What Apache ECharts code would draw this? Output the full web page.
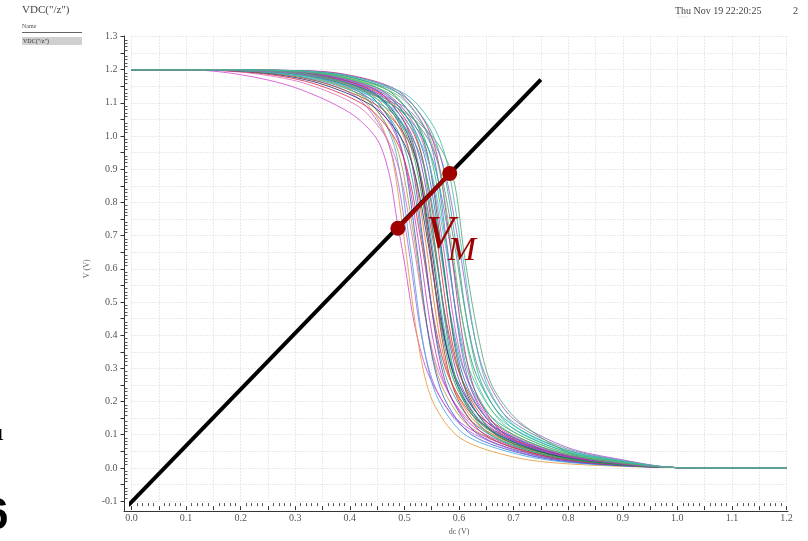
<!DOCTYPE html>
<html>
<head>
<meta charset="utf-8">
<script src="https://cdn.jsdelivr.net/npm/echarts@6/dist/echarts.min.js"></script>
<style>
  html, body { margin: 0; padding: 0; background: #fff; }
  #vtcChart { width: 808px; height: 541px; }
</style>
</head>
<body>
<div id="vtcChart"></div>
<script>
// monte carlo VTC sweeps as [dc (V), V (V)]
const head = [[0, 1.2], [0.1, 1.2]];
const tail = [[1.0, 0.001], [1.2, 0]];

const vtc01 = [[0.2,1.185],[0.3,1.146],[0.4,1.07],[0.45,0.99],[0.473,0.88],[0.486,0.75],[0.5,0.62],[0.52,0.42],[0.547,0.27],[0.6,0.14],[0.7,0.06],[0.8,0.025]];
const vtc02 = [[0.202,1.198],[0.302,1.188],[0.402,1.14],[0.452,1.05],[0.477,0.94],[0.502,0.66],[0.527,0.36],[0.552,0.2],[0.602,0.09],[0.702,0.032],[0.802,0.012]];
const vtc03 = [[0.206,1.197],[0.306,1.18],[0.406,1.125],[0.456,1.03],[0.481,0.92],[0.506,0.68],[0.531,0.40],[0.556,0.245],[0.606,0.125],[0.706,0.05],[0.806,0.02]];
const vtc04 = [[0.211,1.198],[0.311,1.188],[0.411,1.14],[0.461,1.05],[0.486,0.94],[0.511,0.66],[0.536,0.36],[0.561,0.21],[0.611,0.10],[0.711,0.04],[0.811,0.015]];
const vtc05 = [[0.215,1.19],[0.315,1.16],[0.415,1.09],[0.465,1.0],[0.49,0.9],[0.515,0.69],[0.54,0.44],[0.565,0.28],[0.615,0.15],[0.715,0.062],[0.815,0.025]];
const vtc06 = [[0.219,1.197],[0.319,1.18],[0.419,1.125],[0.469,1.03],[0.494,0.92],[0.519,0.68],[0.544,0.40],[0.569,0.245],[0.619,0.125],[0.719,0.05],[0.819,0.02]];
const vtc07 = [[0.223,1.198],[0.323,1.188],[0.423,1.14],[0.473,1.05],[0.498,0.94],[0.523,0.66],[0.548,0.36],[0.573,0.21],[0.623,0.10],[0.723,0.04],[0.823,0.015]];
const vtc08 = [[0.226,1.197],[0.326,1.18],[0.426,1.125],[0.476,1.03],[0.501,0.92],[0.526,0.68],[0.551,0.40],[0.576,0.245],[0.626,0.125],[0.726,0.05],[0.826,0.02]];
const vtc09 = [[0.23,1.19],[0.33,1.16],[0.43,1.09],[0.48,1.0],[0.505,0.9],[0.53,0.69],[0.555,0.44],[0.58,0.28],[0.63,0.15],[0.73,0.062],[0.83,0.025]];
const vtc10 = [[0.233,1.197],[0.333,1.18],[0.433,1.125],[0.483,1.03],[0.508,0.92],[0.533,0.68],[0.558,0.40],[0.583,0.245],[0.633,0.125],[0.733,0.05],[0.833,0.02]];
const vtc11 = [[0.236,1.198],[0.336,1.188],[0.436,1.14],[0.486,1.05],[0.511,0.94],[0.536,0.66],[0.561,0.36],[0.586,0.21],[0.636,0.10],[0.736,0.04],[0.836,0.015]];
const vtc12 = [[0.239,1.197],[0.339,1.18],[0.439,1.125],[0.489,1.03],[0.514,0.92],[0.539,0.68],[0.564,0.40],[0.589,0.245],[0.639,0.125],[0.739,0.05],[0.839,0.02]];
const vtc13 = [[0.242,1.19],[0.342,1.16],[0.442,1.09],[0.492,1.0],[0.517,0.9],[0.542,0.69],[0.567,0.44],[0.592,0.28],[0.642,0.15],[0.742,0.062],[0.842,0.025]];
const vtc14 = [[0.245,1.197],[0.345,1.18],[0.445,1.125],[0.495,1.03],[0.52,0.92],[0.545,0.68],[0.57,0.40],[0.595,0.245],[0.645,0.125],[0.745,0.05],[0.845,0.02]];
const vtc15 = [[0.247,1.198],[0.347,1.188],[0.447,1.14],[0.497,1.05],[0.522,0.94],[0.547,0.66],[0.572,0.36],[0.597,0.21],[0.647,0.10],[0.747,0.04],[0.847,0.015]];
const vtc16 = [[0.25,1.197],[0.35,1.18],[0.45,1.125],[0.5,1.03],[0.525,0.92],[0.55,0.68],[0.575,0.40],[0.6,0.245],[0.65,0.125],[0.75,0.05],[0.85,0.02]];
const vtc17 = [[0.252,1.19],[0.352,1.16],[0.452,1.09],[0.502,1.0],[0.527,0.9],[0.552,0.69],[0.577,0.44],[0.602,0.28],[0.652,0.15],[0.752,0.062],[0.852,0.025]];
const vtc18 = [[0.255,1.197],[0.355,1.18],[0.455,1.125],[0.505,1.03],[0.53,0.92],[0.555,0.68],[0.58,0.40],[0.605,0.245],[0.655,0.125],[0.755,0.05],[0.855,0.02]];
const vtc19 = [[0.257,1.198],[0.357,1.188],[0.457,1.14],[0.507,1.05],[0.532,0.94],[0.557,0.66],[0.582,0.36],[0.607,0.21],[0.657,0.10],[0.757,0.04],[0.857,0.015]];
const vtc20 = [[0.26,1.197],[0.36,1.18],[0.46,1.125],[0.51,1.03],[0.535,0.92],[0.56,0.68],[0.585,0.40],[0.61,0.245],[0.66,0.125],[0.76,0.05],[0.86,0.02]];
const vtc21 = [[0.262,1.19],[0.362,1.16],[0.462,1.09],[0.512,1.0],[0.537,0.9],[0.562,0.69],[0.587,0.44],[0.612,0.28],[0.662,0.15],[0.762,0.062],[0.862,0.025]];
const vtc22 = [[0.265,1.197],[0.365,1.18],[0.465,1.125],[0.515,1.03],[0.54,0.92],[0.565,0.68],[0.59,0.40],[0.615,0.245],[0.665,0.125],[0.765,0.05],[0.865,0.02]];
const vtc23 = [[0.268,1.198],[0.368,1.188],[0.468,1.14],[0.518,1.05],[0.543,0.94],[0.568,0.66],[0.593,0.36],[0.618,0.21],[0.668,0.10],[0.768,0.04],[0.868,0.015]];
const vtc24 = [[0.27,1.197],[0.37,1.18],[0.47,1.125],[0.52,1.03],[0.545,0.92],[0.57,0.68],[0.595,0.40],[0.62,0.245],[0.67,0.125],[0.77,0.05],[0.87,0.02]];
const vtc25 = [[0.273,1.19],[0.373,1.16],[0.473,1.09],[0.523,1.0],[0.548,0.9],[0.573,0.69],[0.598,0.44],[0.623,0.28],[0.673,0.15],[0.773,0.062],[0.873,0.025]];
const vtc26 = [[0.276,1.197],[0.376,1.18],[0.476,1.125],[0.526,1.03],[0.551,0.92],[0.576,0.68],[0.601,0.40],[0.626,0.245],[0.676,0.125],[0.776,0.05],[0.876,0.02]];
const vtc27 = [[0.279,1.198],[0.379,1.188],[0.479,1.14],[0.529,1.05],[0.554,0.94],[0.579,0.66],[0.604,0.36],[0.629,0.21],[0.679,0.10],[0.779,0.04],[0.879,0.015]];
const vtc28 = [[0.282,1.19],[0.382,1.16],[0.482,1.09],[0.532,1.0],[0.557,0.9],[0.582,0.69],[0.607,0.44],[0.632,0.28],[0.682,0.15],[0.782,0.062],[0.882,0.025]];
const vtc29 = [[0.286,1.197],[0.386,1.18],[0.486,1.125],[0.536,1.03],[0.561,0.92],[0.586,0.68],[0.611,0.40],[0.636,0.245],[0.686,0.125],[0.786,0.05],[0.886,0.02]];
const vtc30 = [[0.29,1.19],[0.39,1.16],[0.49,1.09],[0.54,1.0],[0.565,0.9],[0.59,0.69],[0.615,0.44],[0.64,0.28],[0.69,0.15],[0.79,0.062],[0.89,0.025]];
const vtc31 = [[0.294,1.197],[0.394,1.18],[0.494,1.125],[0.544,1.03],[0.569,0.92],[0.594,0.68],[0.619,0.40],[0.644,0.245],[0.694,0.125],[0.794,0.05],[0.894,0.02]];
const vtc32 = [[0.298,1.19],[0.398,1.16],[0.498,1.09],[0.548,1.0],[0.573,0.9],[0.598,0.69],[0.623,0.44],[0.648,0.28],[0.698,0.15],[0.798,0.062],[0.898,0.025]];
const vtc33 = [[0.303,1.197],[0.403,1.18],[0.503,1.125],[0.553,1.03],[0.578,0.92],[0.603,0.68],[0.628,0.40],[0.653,0.245],[0.703,0.125],[0.803,0.05],[0.903,0.02]];
const vtc34 = [[0.31,1.19],[0.41,1.15],[0.51,1.06],[0.56,0.98],[0.59,0.87],[0.61,0.64],[0.635,0.40],[0.66,0.25],[0.71,0.14],[0.81,0.04],[0.91,0.012]];
const vtc35 = [[0.248,1.197],[0.348,1.18],[0.448,1.125],[0.498,1.03],[0.523,0.92],[0.548,0.68],[0.573,0.40],[0.598,0.245],[0.648,0.125],[0.748,0.05],[0.848,0.02]];
const vtc36 = [[0.285,1.198],[0.385,1.188],[0.485,1.14],[0.535,1.05],[0.56,0.94],[0.585,0.66],[0.61,0.36],[0.635,0.21],[0.685,0.10],[0.785,0.04],[0.885,0.015]];

const sweeps = [vtc01, vtc02, vtc03, vtc04, vtc05, vtc06, vtc07, vtc08, vtc09, vtc10, vtc11, vtc12,
  vtc13, vtc14, vtc15, vtc16, vtc17, vtc18, vtc35, vtc19, vtc20, vtc21, vtc22, vtc23, vtc24,
  vtc25, vtc26, vtc27, vtc28, vtc36, vtc29, vtc30, vtc31, vtc32, vtc33, vtc34];
const sweepColors = ["#d44fd4", "#e89a3c", "#b46ae0", "#4aa6e0", "#e070b4", "#aaa040", "#3a5fd0", "#c440c4",
  "#d8304a", "#2aa89a", "#7b3fc0", "#e07b28", "#28307a", "#2ca05a", "#c02858", "#38b8d0", "#a05a30",
  "#9040d0", "#303060", "#22b060", "#e03040", "#28b0a0", "#4070e0", "#1a7a4a", "#d050c0", "#40c8c8",
  "#30b878", "#8060e0", "#20a0a0", "#c03090", "#70c070", "#708898", "#30b090", "#a060d0", "#40c0b0", "#5aa878"];

// y = x guide (drawn at 45 deg on screen) and the V_M segment
const unityLine = [[-0.006, -0.113], [0.75, 1.17]];
const vmPoints = [[0.488, 0.722], [0.583, 0.887]];

const xTicks = { min: 0, max: 1.2, step: 0.05 };
const yTicks = { min: -0.1, max: 1.3, step: 0.05 };

var myChart = echarts.init(document.getElementById("vtcChart"));
const serif = '"Liberation Serif", "DejaVu Serif", serif';

function tenthLabel(v) {
  //only every 0.1 gets a label
  const k = Math.round(v * 100);
  return k % 10 === 0 ? (k / 100).toFixed(1) : "";
}

const gridLines = { show: true, lineStyle: { color: "#d4d4d4", type: [1, 2], width: 1 } };

var series = sweeps.map(function (pts, i) {
  return {
    type: "line",
    xAxisIndex: 1,
    yAxisIndex: 1,
    data: head.concat(pts, tail),
    symbol: "none",
    smooth: 0.3,
    lineStyle: { width: 1, color: sweepColors[i], opacity: 0.85 },
    silent: true,
  };
});

series.push({
  type: "line",
  xAxisIndex: 1,
  yAxisIndex: 1,
  data: unityLine,
  symbol: "none",
  clip: false,
  lineStyle: { width: 4, color: "#000" },
  z: 5,
});
series.push({
  type: "line",
  xAxisIndex: 1,
  yAxisIndex: 1,
  data: vmPoints,
  symbol: "circle",
  symbolSize: 15,
  clip: false,
  itemStyle: { color: "#a00000" },
  lineStyle: { width: 4, color: "#a00000" },
  z: 6,
});

var option = {
  animation: false,
  grid: [
    // frame (axis lines sit a few px outside the plotted range)
    { left: 124, right: 20, top: 36, bottom: 30 },
    // data area
    { left: 131.5, right: 21.5, top: 36.5, bottom: 35.5 },
  ],
  xAxis: [
    {
      gridIndex: 0, type: "value", min: 0, max: 1, position: "bottom",
      axisLine: { show: true, onZero: false, lineStyle: { color: "#333" } },
      axisTick: { show: false }, axisLabel: { show: false }, splitLine: { show: false },
    },
    {
      gridIndex: 1, type: "value", min: xTicks.min, max: xTicks.max, interval: xTicks.step,
      position: "bottom", offset: 5,
      axisLine: { show: false, onZero: false },
      axisTick: { show: true, length: 4, lineStyle: { color: "#333" } },
      axisLabel: { formatter: tenthLabel, fontFamily: serif, fontSize: 10, color: "#555", margin: 7 },
      splitLine: gridLines,
      name: "dc (V)", nameLocation: "middle", nameGap: 19,
      nameTextStyle: { fontFamily: serif, fontSize: 8, color: "#555" },
    },
    {
      gridIndex: 1, type: "value", min: xTicks.min, max: xTicks.max, interval: xTicks.step,
      position: "bottom", offset: 5,
      axisLine: { show: false, onZero: false },
      axisTick: { show: false, inside: true },
      minorTick: { show: true, splitNumber: 5, length: 3, lineStyle: { color: "#555" } },
      axisLabel: { show: false }, splitLine: { show: false },
    },
  ],
  yAxis: [
    {
      gridIndex: 0, type: "value", min: 0, max: 1, position: "left",
      axisLine: { show: true, onZero: false, lineStyle: { color: "#333" } },
      axisTick: { show: false }, axisLabel: { show: false }, splitLine: { show: false },
    },
    {
      gridIndex: 1, type: "value", min: yTicks.min, max: yTicks.max, interval: yTicks.step,
      position: "left", offset: 7,
      axisLine: { show: false, onZero: false },
      axisTick: { show: true, length: 4, lineStyle: { color: "#333" } },
      axisLabel: { formatter: tenthLabel, fontFamily: serif, fontSize: 10, color: "#555", margin: 7 },
      splitLine: gridLines,
      name: "V (V)", nameLocation: "middle", nameGap: 31,
      nameTextStyle: { fontFamily: serif, fontSize: 8, color: "#555" },
    },
    {
      gridIndex: 1, type: "value", min: yTicks.min, max: yTicks.max, interval: yTicks.step,
      position: "left", offset: 7,
      axisLine: { show: false, onZero: false },
      axisTick: { show: false, inside: true },
      minorTick: { show: true, splitNumber: 5, length: 3, lineStyle: { color: "#555" } },
      axisLabel: { show: false }, splitLine: { show: false },
    },
  ],
  graphic: [
    { type: "text", left: 22, top: 5, style: { text: 'VDC("/z")', font: "11px " + serif, fill: "#444" } },
    { type: "text", left: 22, top: 23, style: { text: "Name", font: "6px " + serif, fill: "#555" } },
    { type: "rect", shape: { x: 22, y: 32, width: 60, height: 1 }, style: { fill: "#666" } },
    { type: "rect", shape: { x: 22, y: 37, width: 60, height: 8 }, style: { fill: "#d0d0d0" } },
    { type: "text", left: 23, top: 38, style: { text: 'VDC("/z")', font: "6px " + serif, fill: "#333" } },
    { type: "text", left: 675, top: 6, style: { text: "Thu Nov 19 22:20:25", font: "10px " + serif, fill: "#444" } },
    { type: "text", left: 677, top: 15, style: { text: "~~~~", font: "5px " + serif, fill: "#999" } },
    { type: "text", left: 793, top: 6, style: { text: "2", font: "10px " + serif, fill: "#444" } },
    {
      type: "text", x: 440, y: 236, z: 10,
      style: { text: "V", font: "italic 46px " + serif, fill: "#a00000", align: "center", verticalAlign: "middle" },
    },
    {
      type: "text", x: 462, y: 251, z: 10,
      style: { text: "M", font: "italic 34px " + serif, fill: "#a00000", align: "center", verticalAlign: "middle" },
    },
    { type: "text", left: -4, top: 428, style: { text: "1", font: "bold 16px " + serif, fill: "#000" } },
    { type: "text", x: -16, y: 495, style: { text: "6", font: "bold 44px \"Liberation Sans\", sans-serif", fill: "#000" } },
  ],
  series: series,
};

myChart.setOption(option);
</script>
</body>
</html>
